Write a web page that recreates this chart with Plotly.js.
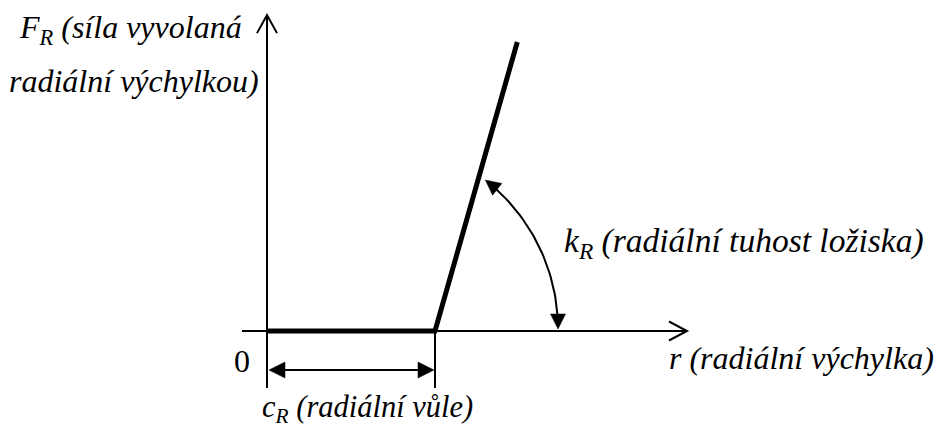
<!DOCTYPE html>
<html>
<head>
<meta charset="utf-8">
<script src="https://cdn.plot.ly/plotly-3.0.1.min.js"></script>
</head>
<body style="margin:0;background:#fff">
<div id="chart" style="width:945px;height:431px"></div>
<script>
// ---- diagram data (dimensionless units: clearance c_R = 1, force top = 1) ----
const clearance = 1.0;                 // c_R
const curveX = [0, clearance, 1.49];   // F_R(r) characteristic
const curveY = [0, 0, 1.0];
const axisXEnd = 2.50;                 // end of r axis
const axisYEnd = 1.093;                // end of F_R axis
const axisXStart = -0.149;
const axisYStart = -0.197;
const dimY = -0.135;                   // level of c_R dimension arrow
const labels = [
  "<i>F<sub>R</sub> (síla vyvolaná</i>",
  "<i>radiální výchylkou)</i>",
  "<i>k<sub>R</sub> (radiální tuhost ložiska)</i>",
  "<i>r (radiální výchylka)</i>",
  "<i>c<sub>R</sub> (radiální vůle)</i>",
  "0"
];

// ---- scale helpers (px per unit) ----
const W = 945, H = 431, OX = 267, OY = 331, SX = 168, SY = 289;
const toPx = (x, y) => [OX + x * SX, OY - y * SY];
const toData = (px, py) => [(px - OX) / SX, (OY - py) / SY];

function tri(tipPx, dir, L, hw) {
  const bx = tipPx[0] - dir[0] * L, by = tipPx[1] - dir[1] * L;
  const nx = -dir[1], ny = dir[0];
  const p = [tipPx, [bx + nx * hw, by + ny * hw], [bx - nx * hw, by - ny * hw]].map(q => toData(q[0], q[1]));
  return {type: 'path', xref: 'x', yref: 'y', path: `M${p[0][0]},${p[0][1]} L${p[1][0]},${p[1][1]} L${p[2][0]},${p[2][1]} Z`,
          fillcolor: '#000', line: {color: '#000', width: 0.5}};
}
function chevron(tipPx, dir, L, hw) {
  const bx = tipPx[0] - dir[0] * L, by = tipPx[1] - dir[1] * L;
  const nx = -dir[1], ny = dir[0];
  const p = [[bx + nx * hw, by + ny * hw], tipPx, [bx - nx * hw, by - ny * hw]].map(q => toData(q[0], q[1]));
  return {type: 'path', xref: 'x', yref: 'y', path: `M${p[0][0]},${p[0][1]} L${p[1][0]},${p[1][1]} L${p[2][0]},${p[2][1]}`,
          line: {color: '#000', width: 2}};
}

const shapes = [];
const lineShape = (x0, y0, x1, y1, w) => ({type: 'line', xref: 'x', yref: 'y', x0, y0, x1, y1, line: {color: '#000', width: w}});
shapes.push(lineShape(0, axisYStart, 0, axisYEnd, 2));
shapes.push(lineShape(axisXStart, 0, axisXEnd, 0, 2));
shapes.push(chevron(toPx(0, axisYEnd), [0, -1], 18, 10));
shapes.push(chevron(toPx(axisXEnd, 0), [1, 0], 18, 9.5));
shapes.push(lineShape(clearance, 0, clearance, axisYStart, 2));
const dimL = toPx(0, dimY), dimR = toPx(clearance, dimY);
shapes.push(lineShape(toData(dimL[0] + 15, 0)[0], dimY, toData(dimR[0] - 15, 0)[0], dimY, 2));
shapes.push(tri([dimL[0] + 2, dimL[1]], [-1, 0], 16, 8));
shapes.push(tri([dimR[0] - 1, dimR[1]], [1, 0], 16, 8));

const arcC = [369, 329], arcR = 189, a0 = 0, a1 = 52 * Math.PI / 180, arrL = 15;
const arcX = [], arcY = [];
const da = arrL / arcR;
for (let i = 0; i <= 40; i++) {
  const a = (a0 + da * 0.9) + (a1 - a0 - da * 1.8) * i / 40;
  const d = toData(arcC[0] + arcR * Math.cos(a), arcC[1] - arcR * Math.sin(a));
  arcX.push(d[0]); arcY.push(d[1]);
}
shapes.push(tri([arcC[0] + arcR * Math.cos(a0), arcC[1] - arcR * Math.sin(a0)], [0, 1], arrL, 7.5));
shapes.push(tri([arcC[0] + arcR * Math.cos(a1), arcC[1] - arcR * Math.sin(a1)], [-Math.sin(a1), -Math.cos(a1)], arrL, 7.5));

const traces = [
  {x: curveX, y: curveY, mode: 'lines', line: {color: '#000', width: 5}, hoverinfo: 'skip'},
  {x: arcX, y: arcY, mode: 'lines', line: {color: '#000', width: 2}, hoverinfo: 'skip'}
];

const ann = (text, pxX, pxY, size) => ({text, xref: 'paper', yref: 'paper', x: pxX / W, y: 1 - pxY / H,
  xanchor: 'left', yanchor: 'middle', showarrow: false,
  font: {family: 'Liberation Serif', size: size, color: '#000'}});
const annotations = [
  ann(labels[0], 17, 29, 32),
  ann(labels[1], 7, 81, 32),
  ann(labels[2], 562, 243, 33.5),
  ann(labels[3], 667, 358, 32),
  ann(labels[4], 260, 409, 30.5),
  ann(labels[5], 232, 361, 32)
];

const layout = {
  width: W, height: H, margin: {l: 0, r: 0, t: 0, b: 0},
  font: {family: 'Liberation Serif', size: 32, color: '#000'},
  paper_bgcolor: '#fff', plot_bgcolor: '#fff', showlegend: false,
  xaxis: {range: [-OX / SX, (W - OX) / SX], visible: false, fixedrange: true},
  yaxis: {range: [(OY - H) / SY, OY / SY], visible: false, fixedrange: true},
  shapes, annotations
};
Plotly.newPlot('chart', traces, layout, {displayModeBar: false});
</script>
</body>
</html>
